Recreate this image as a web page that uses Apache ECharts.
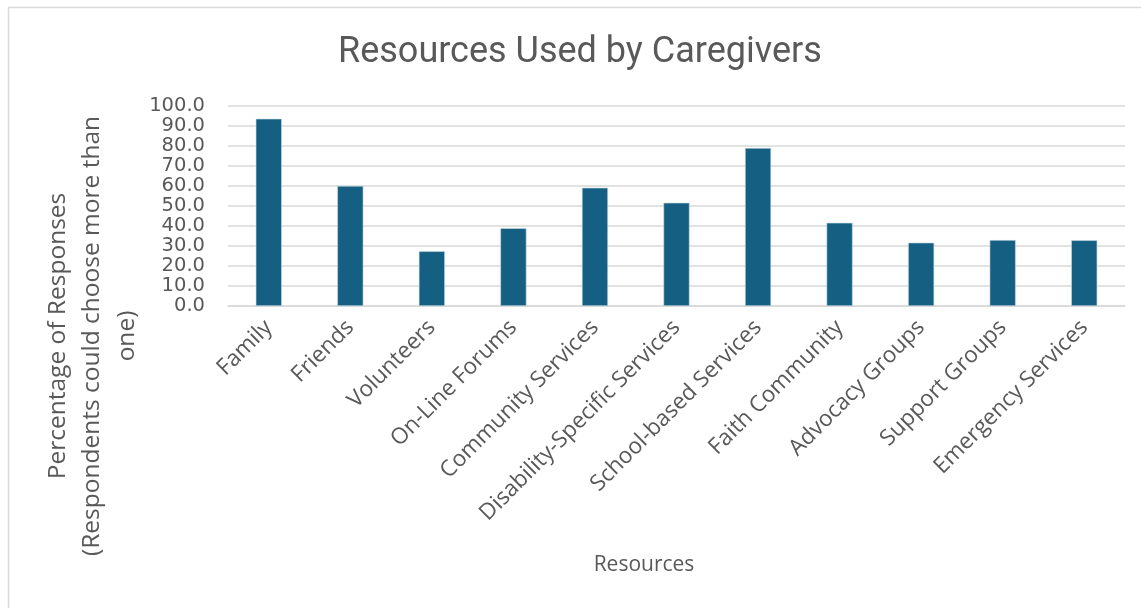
<!DOCTYPE html>
<html>
<head>
<meta charset="utf-8">
<script src="https://cdn.jsdelivr.net/npm/echarts@6/dist/echarts.min.js"></script>
<style>
  html, body { margin: 0; padding: 0; background: #fff; }
  #chart { width: 1141px; height: 608px; }
</style>
</head>
<body>
<div id="chart"></div>
<script>
// Share of caregivers using each type of resource (respondents could pick several)
const categories = [
  'Family', 'Friends', 'Volunteers', 'On-Line Forums', 'Community Services',
  'Disability-Specific Services', 'School-based Services', 'Faith Community',
  'Advocacy Groups', 'Support Groups', 'Emergency Services'
];
const percentages = [93.4, 59.9, 27.3, 38.8, 59.0, 51.5, 78.8, 41.5, 31.6, 32.9, 32.8];
const yTicks = { min: 0, max: 100, interval: 10 };

const titleText = 'Resources Used by Caregivers';
const xTitle = 'Resources';
const yTitleLines = ['Percentage of Responses', '(Respondents could choose more than', 'one)'];

const textColor = '#595959';
const bodyFont = '"Open Sans", "Liberation Sans", Arial, sans-serif';
const numberFont = '"DejaVu Sans", "Open Sans", sans-serif';
const titleFont = 'Roboto, "Liberation Sans", sans-serif';

const chart = echarts.init(document.getElementById('chart'), null, { renderer: 'canvas' });

const yTitleGraphics = yTitleLines.map((line, i) => ({
  type: 'text',
  x: 58 + i * 34.5,
  y: 336,
  rotation: Math.PI / 2,
  style: {
    text: line,
    fill: textColor,
    font: '24.5px ' + bodyFont,
    textAlign: 'center',
    textVerticalAlign: 'middle'
  }
}));

chart.setOption({
  animation: false,
  backgroundColor: '#ffffff',
  title: {
    text: titleText,
    left: 333,
    top: 30,
    textStyle: {
      color: textColor,
      fontSize: 36,
      fontWeight: 'normal',
      fontFamily: titleFont
    }
  },
  grid: { left: 228, right: 16, top: 105.5, bottom: 302, containLabel: false },
  xAxis: {
    type: 'category',
    data: categories,
    axisLine: { show: true, lineStyle: { color: '#d9d9d9', width: 1.5 } },
    axisTick: { show: false },
    axisLabel: {
      interval: 0,
      rotate: 45,
      margin: 18,
      color: textColor,
      fontSize: 22.5,
      fontFamily: bodyFont
    }
  },
  yAxis: {
    type: 'value',
    min: yTicks.min,
    max: yTicks.max,
    interval: yTicks.interval,
    axisLine: { show: false },
    axisTick: { show: false },
    splitLine: { lineStyle: { color: '#d9d9d9', width: 1.5 } },
    axisLabel: {
      margin: 23,
      showMinLabel: true,
      showMaxLabel: true,
      hideOverlap: false,
      color: textColor,
      fontSize: 19.5,
      fontFamily: numberFont,
      formatter: v => v.toFixed(1)
    }
  },
  series: [{
    type: 'bar',
    data: percentages,
    barWidth: '32%',
    itemStyle: { color: '#156082', borderColor: '#c9dbe5', borderWidth: 0.6 }
  }],
  graphic: [
    {
      type: 'rect',
      shape: { x: 8.5, y: 7.5, width: 1160, height: 640 },
      style: { fill: 'none', stroke: '#d9d9d9', lineWidth: 1.5 },
      silent: true
    },
    {
      type: 'text',
      x: 644,
      y: 565,
      style: {
        text: xTitle,
        fill: textColor,
        font: '21px ' + bodyFont,
        textAlign: 'center',
        textVerticalAlign: 'middle'
      }
    },
    ...yTitleGraphics
  ]
});
</script>
</body>
</html>
